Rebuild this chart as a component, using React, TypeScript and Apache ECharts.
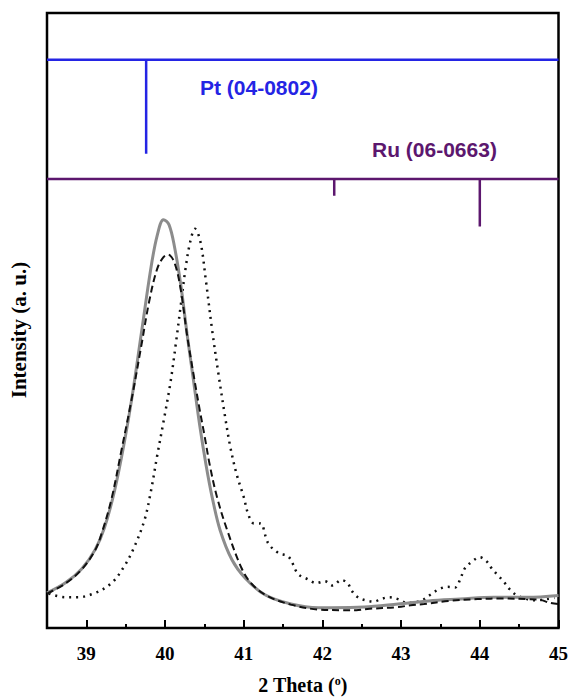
import React, { useEffect, useRef } from "react";
import * as echarts from "echarts";

// x range and ticks (2 Theta, degrees)
const xMin = 38.5;
const xMax = 45;
const majorTicks = [39, 40, 41, 42, 43, 44, 45];
const minorTicks = [39.5, 40.5, 41.5, 42.5, 43.5, 44.5];

// reference patterns (position, drop line bottom), baseline levels in intensity units
const ptBase = 92.4;
const ptPeaks = [[39.76, 77.1]];
const ruBase = 73.0;
const ruPeaks = [
  [42.15, 70.3],
  [44.0, 65.3],
];

// measured patterns
const solidCurve = [
  [38.5, 5.7], [38.73, 7.3], [38.94, 9.6], [39.11, 12.7], [39.23, 16.3], [39.36, 22.4],
  [39.48, 30.0], [39.58, 37.5], [39.7, 48.0], [39.82, 58.5], [39.9, 63.8], [39.98, 66.4],
  [40.05, 65.6], [40.12, 62.0], [40.2, 55.8], [40.28, 47.8], [40.36, 40.4], [40.44, 33.0],
  [40.52, 26.6], [40.6, 21.2], [40.7, 15.9], [40.85, 11.1], [41.02, 8.1], [41.27, 5.4],
  [41.6, 3.9], [41.95, 3.3], [42.11, 3.3], [42.53, 3.4], [42.96, 3.9], [43.35, 4.4],
  [43.75, 4.7], [44.18, 5.0], [44.6, 5.0], [45, 5.3],
];

const dashedCurve = [
  [38.5, 5.6], [38.73, 7.2], [38.94, 9.5], [39.11, 12.6], [39.2, 15.6], [39.32, 21.0],
  [39.44, 28.5], [39.58, 37.5], [39.7, 46.0], [39.8, 53.2], [39.9, 58.4], [39.98, 60.3],
  [40.04, 60.7], [40.12, 59.4], [40.2, 55.0], [40.28, 47.6], [40.36, 41.4], [40.44, 35.5],
  [40.5, 31.4], [40.57, 26.4], [40.66, 21.3], [40.79, 15.9], [40.97, 9.8], [41.1, 7.2],
  [41.3, 5.2], [41.6, 3.8], [41.95, 3.0], [42.24, 2.9], [42.43, 2.9], [42.57, 3.1],
  [42.96, 3.4], [43.12, 3.7], [43.29, 3.9], [43.6, 4.4], [43.97, 4.7], [44.3, 4.8],
  [44.6, 4.7], [44.76, 4.6], [44.89, 4.1], [45, 3.9],
];

const dottedCurve = [
  [38.52, 5.6], [38.73, 5.0], [38.89, 5.0], [39.11, 5.7], [39.32, 7.3], [39.48, 10.0],
  [39.61, 13.2], [39.74, 17.6], [39.82, 22.2], [39.9, 28.0], [39.99, 34.2], [40.07, 40.0],
  [40.14, 46.5], [40.2, 52.5], [40.26, 58.4], [40.32, 62.8], [40.38, 64.9], [40.45, 62.8],
  [40.52, 56.4], [40.6, 48.3], [40.68, 41.2], [40.76, 34.6], [40.83, 29.4], [40.91, 25.0],
  [41.0, 21.3], [41.06, 18.4], [41.13, 17.0], [41.21, 17.0], [41.31, 13.8], [41.44, 12.2],
  [41.57, 11.6], [41.69, 8.8], [41.82, 7.9], [41.92, 7.3], [42.03, 7.6], [42.13, 6.9],
  [42.24, 7.8], [42.32, 7.3], [42.37, 6.1], [42.45, 5.0], [42.55, 4.5], [42.66, 4.3],
  [42.74, 4.7], [42.85, 5.0], [42.96, 4.7], [43.08, 4.1], [43.25, 4.4], [43.37, 5.4],
  [43.48, 6.3], [43.59, 6.7], [43.69, 6.6], [43.75, 7.9], [43.81, 9.7], [43.9, 10.8],
  [44.0, 11.5], [44.09, 10.8], [44.15, 9.7], [44.22, 8.7], [44.3, 7.6], [44.38, 6.3],
  [44.47, 5.3], [44.6, 4.7], [44.72, 4.5], [44.85, 4.7], [44.95, 4.9],
];

const PT_COLOR = "#2424e4";
const RU_COLOR = "#5c176e";
const SERIF = "'Liberation Serif', 'Times New Roman', serif";
const SANS = "'Liberation Sans', Arial, sans-serif";

export default function App() {
  const ref = useRef<HTMLDivElement>(null);

  useEffect(() => {
    if (!ref.current) return;
    const chart = echarts.init(ref.current, null, { renderer: "svg" });

    const refLine = (data: number[][], color: string, width = 2.5) => ({
      type: "line",
      data,
      symbol: "none",
      silent: true,
      z: 5,
      lineStyle: { color, width },
    });

    const series: any[] = [
      refLine([[xMin, ptBase], [xMax, ptBase]], PT_COLOR),
      ...ptPeaks.map(([x, y]) => refLine([[x, ptBase], [x, y]], PT_COLOR)),
      refLine([[xMin, ruBase], [xMax, ruBase]], RU_COLOR),
      ...ruPeaks.map(([x, y]) => refLine([[x, ruBase], [x, y]], RU_COLOR)),
      {
        type: "line",
        data: dottedCurve,
        symbol: "none",
        smooth: 0.35,
        lineStyle: { color: "#111", width: 2.5, type: [2, 5] },
      },
      {
        type: "line",
        data: solidCurve,
        symbol: "none",
        smooth: 0.35,
        lineStyle: { color: "#8c8c8c", width: 3 },
      },
      {
        type: "line",
        data: dashedCurve,
        symbol: "none",
        smooth: 0.35,
        lineStyle: { color: "#111", width: 2, type: [7, 4] },
      },
    ];

    chart.setOption({
      animation: false,
      grid: {
        left: 47,
        right: 9,
        top: 13,
        bottom: 68,
        show: true,
        borderColor: "#000",
        borderWidth: 2.5,
      },
      xAxis: [
        {
          type: "value",
          min: xMin,
          max: xMax,
          interval: 0.5,
          axisLine: { show: false },
          splitLine: { show: false },
          axisTick: {
            show: true,
            inside: true,
            length: 8,
            customValues: majorTicks,
            lineStyle: { color: "#000", width: 2 },
          },
          axisLabel: {
            customValues: majorTicks,
            margin: 16,
            color: "#000",
            fontFamily: SERIF,
            fontWeight: "bold",
            fontSize: 19,
          },
          name: "{n|2 Theta (}{s|o}{n|)}",
          nameLocation: "middle",
          nameGap: 47,
          nameTextStyle: {
            rich: {
              n: { fontFamily: SERIF, fontWeight: "bold", fontSize: 20, color: "#000" },
              s: {
                fontFamily: SERIF,
                fontWeight: "bold",
                fontSize: 12,
                color: "#000",
                verticalAlign: "top",
                padding: [0, 0, 7, 0],
              },
            },
          },
        },
        {
          type: "value",
          min: xMin,
          max: xMax,
          interval: 0.5,
          position: "bottom",
          axisLine: { show: false },
          splitLine: { show: false },
          axisLabel: { show: false },
          axisTick: {
            show: true,
            inside: true,
            length: 4,
            customValues: minorTicks,
            lineStyle: { color: "#000", width: 2 },
          },
        },
      ],
      yAxis: {
        type: "value",
        min: 0,
        max: 100,
        axisLine: { show: false },
        axisTick: { show: false },
        axisLabel: { show: false },
        splitLine: { show: false },
      },
      graphic: [
        {
          type: "text",
          x: 19,
          y: 330,
          rotation: Math.PI / 2,
          style: {
            text: "Intensity (a. u.)",
            fill: "#000",
            font: `bold 21px ${SERIF}`,
            align: "center",
            verticalAlign: "middle",
          },
        },
        {
          type: "text",
          left: 200,
          top: 77,
          style: {
            text: "Pt (04-0802)",
            fill: PT_COLOR,
            font: `bold 21px ${SANS}`,
          },
        },
        {
          type: "text",
          left: 372,
          top: 139,
          style: {
            text: "Ru (06-0663)",
            fill: RU_COLOR,
            font: `bold 21px ${SANS}`,
          },
        },
      ],
      series,
    });

    return () => chart.dispose();
  }, []);

  return (
    <div
      ref={ref}
      style={{ position: "absolute", left: 0, top: 0, width: 571, height: 700, background: "#fff" }}
    />
  );
}
